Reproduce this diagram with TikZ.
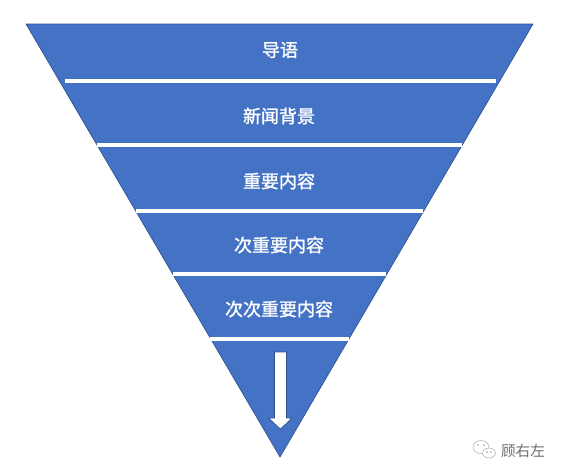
\documentclass[tikz,border=0pt]{standalone}
\usepackage{fontspec}
\usepackage{xcolor}
\setmainfont{Noto Sans CJK SC}
\newfontfamily\layerfont[FakeBold=1.4]{Noto Sans CJK SC}
\definecolor{pyramidblue}{HTML}{4472C4}
\definecolor{pyramidedge}{HTML}{2F528F}
\tikzset{
    layerlabel/.style={text=white, font=\fontsize{13.5pt}{15pt}\layerfont, inner sep=0pt},
    divider/.style={white, line width=2.4pt},
    wechatline/.style={gray!70, line width=0.35pt}
}

\begin{document}
\begin{tikzpicture}[x=0.75pt, y=-0.75pt]
\useasboundingbox (0,0) rectangle (561,475);
\coordinate (tl) at (26,24);
\coordinate (tr) at (533,24);
\coordinate (apex) at (280,457);
\fill[pyramidblue] (tl) -- (tr) -- (apex) -- cycle;
\draw[pyramidedge, line width=0.5pt, line join=round] (tl) -- (tr) -- (apex) -- cycle;
% dividers between the layers
\foreach \k/\y/\l/\r in {0/81/65/496,1/145/97/462,2/211/136/423,3/274/173/386,4/339/210/349} {
    \coordinate (dl\k) at (\l,\y);
    \coordinate (dr\k) at (\r,\y);
    \draw[divider] (dl\k) -- (dr\k);
}
\node[layerlabel] (lead) at (280,50) {导语};
\node[layerlabel] (background) at (279,116) {新闻背景};
\node[layerlabel] (main) at (279,181) {重要内容};
\node[layerlabel] (second) at (279,245) {次重要内容};
\node[layerlabel] (third) at (279,309) {次次重要内容};
% arrow in the tip
\draw[pyramidedge, fill=white, line width=0.5pt] (274.5,352) -- (286.5,352) -- (286.5,418) -- (292,418)
    -- (280.5,429) -- (268.5,418) -- (274.5,418) -- cycle;
% mark in the corner
\draw[wechatline, fill=white] (481,447) ellipse (8 and 6.5);
\draw[wechatline, fill=white] (489,453) ellipse (6.5 and 5);
\foreach \x/\y in {478/445,484/445,487/452,491/452} {
    \fill[gray!70] (\x,\y) circle (0.8);
}
\node[text=gray!85!black, font=\fontsize{11pt}{13pt}\selectfont, inner sep=0pt] (mark) at (523,451) {顾右左};
\end{tikzpicture}
\end{document}
